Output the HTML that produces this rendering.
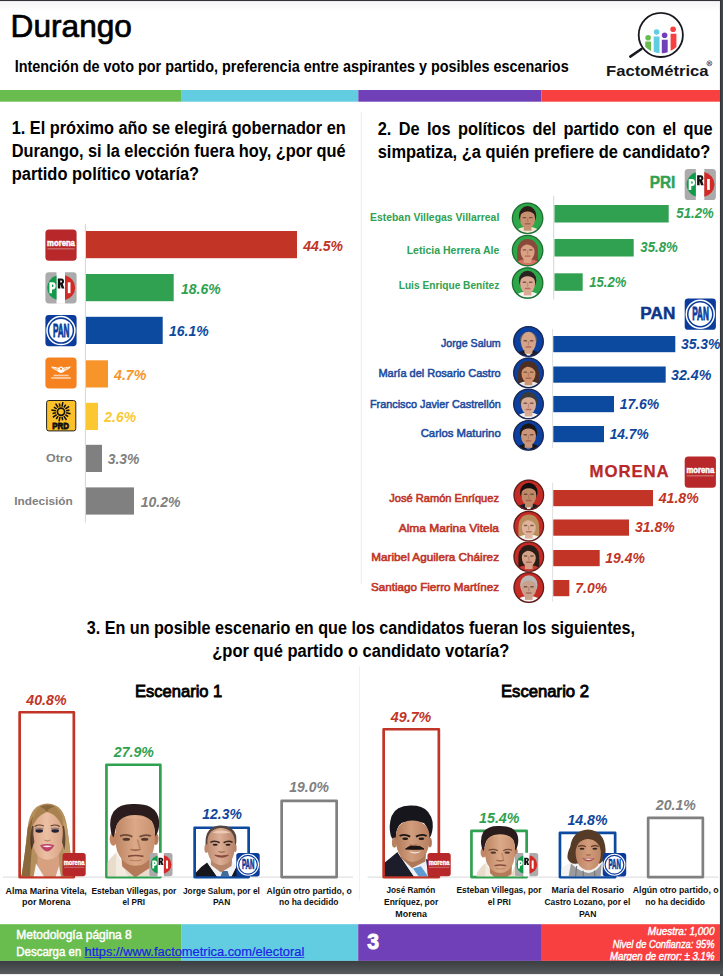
<!DOCTYPE html>
<html lang="es"><head><meta charset="utf-8"><title>Durango - FactoMétrica</title>
<style>html,body{margin:0;padding:0;background:#fff;}body{width:723px;height:976px;overflow:hidden;font-family:"Liberation Sans",sans-serif;}svg{display:block;font-family:"Liberation Sans",sans-serif;}text{white-space:pre;}</style>
</head><body>
<svg width="723" height="976" viewBox="0 0 723 976">
<defs><linearGradient id="gb" x1="0" y1="0" x2="0" y2="1"><stop offset="0" stop-color="#3b3e41"/><stop offset="1" stop-color="#585b5e"/></linearGradient><linearGradient id="gr" x1="0" y1="0" x2="1" y2="0"><stop offset="0" stop-color="#6b6e70"/><stop offset="0.2" stop-color="#33363a"/><stop offset="1" stop-color="#4b4e51"/></linearGradient><linearGradient id="gt" x1="0" y1="0" x2="0" y2="1"><stop offset="0" stop-color="#f5f5f5"/><stop offset="1" stop-color="#ffffff"/></linearGradient><filter id="ab" x="-10%" y="-10%" width="120%" height="120%"><feGaussianBlur stdDeviation="0.5"/></filter></defs>
<rect x="0.0" y="0.0" width="723.0" height="976.0" fill="#fff"/>
<text x="10.6" y="37.3" font-size="31.6" font-weight="normal" fill="#000" stroke="#000" stroke-width="0.7" textLength="121.3" lengthAdjust="spacingAndGlyphs">Durango</text>
<text x="14.7" y="72.3" font-size="15.6" font-weight="bold" fill="#000" textLength="554.0" lengthAdjust="spacingAndGlyphs">Intención de voto por partido, preferencia entre aspirantes y posibles escenarios</text>
<rect x="0.0" y="90.0" width="181.7" height="11.7" fill="#69bd4f"/>
<rect x="181.7" y="90.0" width="176.6" height="11.7" fill="#62cce0"/>
<rect x="358.3" y="90.0" width="183.0" height="11.7" fill="#7040b8"/>
<rect x="541.3" y="90.0" width="179.0" height="11.7" fill="#f94040"/>
<g>
<path d="M641.4 49.0 L630.3 56.6" stroke="#16181d" stroke-width="2.5" stroke-linecap="round"/>
<circle cx="660.8" cy="34.9" r="22.1" fill="#fff" stroke="#16181d" stroke-width="1.8"/>
<circle cx="648.1" cy="37.8" r="2.8" fill="#69bd4f"/><path d="M645.2 41.6 h5.8 v9.3 q-3.2 -1.5 -5.8 -4.2 Z" fill="#69bd4f"/>
<circle cx="656.6" cy="32.0" r="2.8" fill="#62cce0"/><path d="M653.7 36.6 h5.8 v16.6 q-3.0 -0.3 -5.8 -1.4 Z" fill="#62cce0"/>
<circle cx="664.6" cy="35.2" r="2.8" fill="#7040b8"/><path d="M661.8 39.8 h5.9 v12.4 q-2.9 0.9 -5.9 1.0 Z" fill="#7040b8"/>
<circle cx="673.1" cy="29.3" r="2.8" fill="#f94040"/><path d="M670.6 33.8 h5.8 v13.2 q-2.6 2.6 -5.8 3.8 Z" fill="#f94040"/>
<text x="606.0" y="76.2" font-size="15.4" font-weight="bold" fill="#14161c" textLength="102.5" lengthAdjust="spacingAndGlyphs">FactoMétrica</text>
<circle cx="709.4" cy="63.3" r="2.5" fill="none" stroke="#222" stroke-width="0.6"/>
<text x="708.1" y="64.8" font-size="3.9" font-weight="bold" fill="#222">R</text>
</g>
<rect x="360.8" y="112.0" width="0.9" height="472.0" fill="#e9e9e9"/>
<rect x="359.2" y="666.0" width="0.9" height="234.5" fill="#eeeeee"/>
<text x="11.7" y="134.4" font-size="17.5" font-weight="bold" fill="#000" textLength="334.0" lengthAdjust="spacingAndGlyphs">1. El próximo año se elegirá gobernador en</text>
<text x="11.7" y="157.4" font-size="17.5" font-weight="bold" fill="#000" textLength="334.0" lengthAdjust="spacingAndGlyphs">Durango, si la elección fuera hoy, ¿por qué</text>
<text x="11.7" y="180.3" font-size="17.5" font-weight="bold" fill="#000" textLength="187.5" lengthAdjust="spacingAndGlyphs">partido político votaría?</text>
<rect x="84.9" y="224.0" width="0.9" height="298.5" fill="#d0d0d0"/>
<rect x="86.0" y="231.0" width="211.0" height="27.2" fill="#c13426"/>
<text x="303.3" y="250.6" font-size="14.8" font-weight="bold" font-style="italic" fill="#c13426" textLength="39.8" lengthAdjust="spacingAndGlyphs">44.5%</text>
<rect x="86.0" y="274.0" width="87.7" height="27.2" fill="#30a150"/>
<text x="181.0" y="293.6" font-size="14.8" font-weight="bold" font-style="italic" fill="#30a150" textLength="39.6" lengthAdjust="spacingAndGlyphs">18.6%</text>
<rect x="86.0" y="316.8" width="76.7" height="27.2" fill="#0c4aa0"/>
<text x="169.0" y="336.4" font-size="14.8" font-weight="bold" font-style="italic" fill="#0c4aa0" textLength="39.7" lengthAdjust="spacingAndGlyphs">16.1%</text>
<rect x="86.0" y="360.3" width="22.0" height="27.2" fill="#f8952a"/>
<text x="114.0" y="379.9" font-size="14.8" font-weight="bold" font-style="italic" fill="#f8952a" textLength="32.4" lengthAdjust="spacingAndGlyphs">4.7%</text>
<rect x="86.0" y="402.8" width="12.0" height="27.2" fill="#fcc832"/>
<text x="104.3" y="422.4" font-size="14.8" font-weight="bold" font-style="italic" fill="#fcc832" textLength="31.8" lengthAdjust="spacingAndGlyphs">2.6%</text>
<rect x="86.0" y="444.8" width="16.0" height="27.2" fill="#808080"/>
<text x="107.7" y="464.4" font-size="14.8" font-weight="bold" font-style="italic" fill="#808080" textLength="31.8" lengthAdjust="spacingAndGlyphs">3.3%</text>
<rect x="86.0" y="487.4" width="48.0" height="27.2" fill="#808080"/>
<text x="140.7" y="507.0" font-size="14.8" font-weight="bold" font-style="italic" fill="#808080" textLength="39.7" lengthAdjust="spacingAndGlyphs">10.2%</text>
<g transform="translate(45.4,229.6) scale(1.000)">
<rect x="0" y="0" width="31.2" height="31.2" rx="3.6" fill="#b8282a"/>
<text x="1.7" y="16.3" font-size="9.0" font-weight="bold" fill="#fff" stroke="#fff" stroke-width="0.5" textLength="27.8" lengthAdjust="spacingAndGlyphs">morena</text>
<rect x="2.0" y="18.6" width="27.2" height="1.2" fill="#e3aaa6" opacity="0.6"/>
</g>
<g transform="translate(45.4,272.2) scale(1.000)">
<rect x="0" y="0" width="31.2" height="31.2" rx="3.4" fill="#ababab"/>
<rect x="11.1" y="-0.3" width="8.5" height="31.8" fill="#fff"/>
<path d="M11.1 3.35 A13.5 12.8 0 0 0 11.1 27.65 Z" fill="#109a49"/>
<path d="M19.6 3.1 A13.5 12.8 0 0 1 19.6 27.9 Z" fill="#d22a26"/>
<path fill-rule="evenodd" d="M4 10 H7.4 A2.9 3.6 0 0 1 7.4 17.2 H6.6 V21 H4 Z M6.6 12.3 V14.9 H7.1 A1.0 1.3 0 0 0 7.1 12.3 Z" fill="#fff"/>
<path fill-rule="evenodd" d="M12.4 6.3 H16.2 A2.7 2.9 0 0 1 17.4 11.7 L19.0 16.25 H16.3 L15.0 12.3 H14.9 V16.25 H12.4 Z M14.9 8.4 V10.3 H15.7 A0.9 0.95 0 0 0 15.7 8.4 Z" fill="#111"/>
<rect x="22.4" y="10.1" width="2.7" height="10.9" fill="#fff"/>
</g>
<g transform="translate(45.4,315.0) scale(1.000)">
<rect x="0" y="0" width="31.2" height="31.2" rx="3.4" fill="#0b3c9b"/>
<circle cx="15.55" cy="15.6" r="14.0" fill="none" stroke="#fff" stroke-width="1.5"/>
<circle cx="15.55" cy="15.6" r="11.7" fill="#fff"/>
<text x="7.5" y="21.8" font-size="18.4" font-weight="bold" fill="#0b3c9b" stroke="#0b3c9b" stroke-width="0.95" textLength="16.6" lengthAdjust="spacingAndGlyphs">PAN</text>
</g>
<g transform="translate(45.4,357.4) scale(1.000)">
<rect x="0" y="0" width="31.2" height="31.2" rx="3.8" fill="#f6821f"/>
<path d="M5.4 9.0 Q10.5 9.2 13.4 10.4 L15.6 8.8 L17.8 10.4 Q20.7 9.2 25.8 9.0 Q23.4 12.2 19.8 13.4 Q17.8 15.2 15.6 15.5 Q13.4 15.2 11.4 13.4 Q7.8 12.2 5.4 9.0 Z" fill="#fff"/>
<path d="M8.2 10.3 L12.2 12.6 M10.6 10.2 L13.4 12.2 M23.0 10.3 L19.0 12.6 M20.6 10.2 L17.8 12.2" stroke="#f6821f" stroke-width="0.55" fill="none"/>
<circle cx="15.6" cy="11.4" r="1.1" fill="#f6821f"/>
<rect x="8.0" y="17.3" width="15.2" height="1.5" fill="#fff" opacity="0.6"/>
<rect x="5.8" y="19.8" width="19.6" height="1.6" fill="#fff" opacity="0.65"/>
</g>
<g transform="translate(45.4,400.0) scale(1.000)">
<rect x="1.2" y="0.5" width="29.2" height="30.4" rx="2.2" fill="#fbc02a" stroke="#222" stroke-width="1"/>
<path d="M20.70 12.81L25.21 13.71M19.92 14.69L22.75 16.58M18.49 16.12L21.04 19.95M16.61 16.90L17.28 20.23M14.59 16.90L13.69 21.41M12.71 16.12L10.82 18.95M11.28 14.69L7.45 17.24M10.50 12.81L7.17 13.48M10.50 10.79L5.99 9.89M11.28 8.91L8.45 7.02M12.71 7.48L10.16 3.65M14.59 6.70L13.92 3.37M16.61 6.70L17.51 2.19M18.49 7.48L20.38 4.65M19.92 8.91L23.75 6.36M20.70 10.79L24.03 10.12" stroke="#111" stroke-width="1.55" fill="none"/>
<circle cx="15.6" cy="11.8" r="3.6" fill="#fbc02a" stroke="#111" stroke-width="1.7"/>
<text x="6.9" y="28.9" font-size="9.6" font-weight="bold" fill="#111" stroke="#111" stroke-width="0.9" textLength="16.6" lengthAdjust="spacingAndGlyphs">PRD</text>
</g>
<text x="46.0" y="462.4" font-size="11.6" font-weight="bold" fill="#808080" textLength="26.3" lengthAdjust="spacingAndGlyphs">Otro</text>
<text x="14.3" y="505.0" font-size="11.6" font-weight="bold" fill="#808080" textLength="58.4" lengthAdjust="spacingAndGlyphs">Indecisión</text>
<text x="377.7" y="134.6" font-size="17.5" font-weight="bold" fill="#000" textLength="335.0" lengthAdjust="spacingAndGlyphs" word-spacing="3">2. De los políticos del partido con el que</text>
<text x="377.7" y="157.5" font-size="17.5" font-weight="bold" fill="#000" textLength="332.6" lengthAdjust="spacingAndGlyphs">simpatiza, ¿a quién prefiere de candidato?</text>
<text x="649.7" y="187.8" font-size="16.8" font-weight="bold" fill="#30a150" stroke="#30a150" stroke-width="0.45" textLength="25.6" lengthAdjust="spacingAndGlyphs">PRI</text>
<g transform="translate(684.7,168.9) scale(1.000)">
<rect x="0" y="0" width="31.2" height="31.2" rx="3.4" fill="#ababab"/>
<rect x="11.1" y="-0.3" width="8.5" height="31.8" fill="#fff"/>
<path d="M11.1 3.35 A13.5 12.8 0 0 0 11.1 27.65 Z" fill="#109a49"/>
<path d="M19.6 3.1 A13.5 12.8 0 0 1 19.6 27.9 Z" fill="#d22a26"/>
<path fill-rule="evenodd" d="M4 10 H7.4 A2.9 3.6 0 0 1 7.4 17.2 H6.6 V21 H4 Z M6.6 12.3 V14.9 H7.1 A1.0 1.3 0 0 0 7.1 12.3 Z" fill="#fff"/>
<path fill-rule="evenodd" d="M12.4 6.3 H16.2 A2.7 2.9 0 0 1 17.4 11.7 L19.0 16.25 H16.3 L15.0 12.3 H14.9 V16.25 H12.4 Z M14.9 8.4 V10.3 H15.7 A0.9 0.95 0 0 0 15.7 8.4 Z" fill="#111"/>
<rect x="22.4" y="10.1" width="2.7" height="10.9" fill="#fff"/>
</g>
<rect x="553.3" y="196.0" width="0.9" height="103.5" fill="#d0d0d0"/>
<text x="370.0" y="221.0" font-size="11.7" font-weight="bold" fill="#30a150" textLength="129.3" lengthAdjust="spacingAndGlyphs">Esteban Villegas Villarreal</text>
<rect x="554.5" y="205.0" width="114.2" height="17.5" fill="#30a150"/>
<text x="676.3" y="218.3" font-size="14.2" font-weight="bold" font-style="italic" fill="#30a150" textLength="37.4" lengthAdjust="spacingAndGlyphs">51.2%</text>
<text x="406.7" y="254.3" font-size="11.7" font-weight="bold" fill="#30a150" textLength="92.6" lengthAdjust="spacingAndGlyphs">Leticia Herrera Ale</text>
<rect x="554.5" y="239.0" width="79.2" height="17.5" fill="#30a150"/>
<text x="640.3" y="252.3" font-size="14.2" font-weight="bold" font-style="italic" fill="#30a150" textLength="37.4" lengthAdjust="spacingAndGlyphs">35.8%</text>
<text x="398.7" y="288.8" font-size="11.7" font-weight="bold" fill="#30a150" textLength="100.6" lengthAdjust="spacingAndGlyphs">Luis Enrique Benítez</text>
<rect x="554.5" y="273.3" width="28.2" height="17.5" fill="#30a150"/>
<text x="589.3" y="286.6" font-size="14.2" font-weight="bold" font-style="italic" fill="#30a150" textLength="37.0" lengthAdjust="spacingAndGlyphs">15.2%</text>
<g><circle cx="527.6" cy="218.3" r="16.1" fill="#d9ddd9"/>
<circle cx="527.6" cy="218.3" r="15.4" fill="#2ea64a"/>
<clipPath id="c527_218"><circle cx="527.6" cy="218.3" r="14.7"/></clipPath>
<g clip-path="url(#c527_218)"><g filter="url(#ab)">
<ellipse cx="527.6" cy="236.9" rx="15.5" ry="10.2" fill="#efe6d4"/>
<rect x="523.8" y="223.3" width="7.6" height="7.4" fill="#c7906f"/>
<ellipse cx="527.6" cy="215.7" rx="8.7" ry="9.6" fill="#2a1d17"/>
<ellipse cx="527.6" cy="218.9" rx="7.5" ry="9.6" fill="#c7906f"/>
<path d="M520.0 215.1 Q521.6 208.8 527.6 208.7 Q533.6 208.8 535.2 215.1 Q531.6 211.1 527.6 211.5 Q523.6 211.1 520.0 215.1Z" fill="#2a1d17"/>
<rect x="522.6" y="216.9" width="3.6" height="1.4" rx=".6" fill="#3a251d" opacity="0.6"/>
<rect x="529.0" y="216.9" width="3.6" height="1.4" rx=".6" fill="#3a251d" opacity="0.6"/>
<rect x="526.9" y="217.9" width="1.4" height="4.2" fill="#8a5a45" opacity="0.35"/>
<rect x="524.6" y="223.1" width="6" height="1.4" rx="0.7" fill="#8a3d35" opacity="0.55"/>
</g></g>
<circle cx="527.6" cy="218.3" r="15.2" fill="none" stroke="#1d6e33" stroke-width="1.2"/></g>
<g><circle cx="527.6" cy="250.6" r="16.1" fill="#d9ddd9"/>
<circle cx="527.6" cy="250.6" r="15.4" fill="#2ea64a"/>
<clipPath id="c527_250"><circle cx="527.6" cy="250.6" r="14.7"/></clipPath>
<g clip-path="url(#c527_250)"><g filter="url(#ab)">
<ellipse cx="527.6" cy="250.1" rx="10.4" ry="11.2" fill="#8a4a3a"/>
<rect x="517.2" y="250.1" width="20.8" height="13.5" rx="3" fill="#8a4a3a"/>
<ellipse cx="527.6" cy="269.2" rx="15.5" ry="10.2" fill="#d9705f"/>
<rect x="523.8" y="255.6" width="7.6" height="7.4" fill="#dba184"/>
<ellipse cx="527.6" cy="251.4" rx="7.0" ry="9.2" fill="#dba184"/>
<path d="M519.8 250.6 Q521.1 240.6 528.1 241.0 Q534.6 241.0 535.4 250.6 Q531.6 244.0 526.1 244.6 Q521.6 246.0 519.8 250.6Z" fill="#8a4a3a"/>
<rect x="522.6" y="249.2" width="3.6" height="1.4" rx=".6" fill="#3a251d" opacity="0.6"/>
<rect x="529.0" y="249.2" width="3.6" height="1.4" rx=".6" fill="#3a251d" opacity="0.6"/>
<rect x="526.9" y="250.2" width="1.4" height="4.2" fill="#8a5a45" opacity="0.35"/>
<rect x="524.6" y="255.4" width="6" height="1.4" rx="0.7" fill="#8a3d35" opacity="0.55"/>
</g></g>
<circle cx="527.6" cy="250.6" r="15.2" fill="none" stroke="#1d6e33" stroke-width="1.2"/></g>
<g><circle cx="527.6" cy="283.0" r="16.1" fill="#d9ddd9"/>
<circle cx="527.6" cy="283.0" r="15.4" fill="#2ea64a"/>
<clipPath id="c527_283"><circle cx="527.6" cy="283.0" r="14.7"/></clipPath>
<g clip-path="url(#c527_283)"><g filter="url(#ab)">
<ellipse cx="527.6" cy="301.6" rx="15.5" ry="10.2" fill="#f4f4f2"/>
<rect x="523.8" y="288.0" width="7.6" height="7.4" fill="#dcaa94"/>
<ellipse cx="527.6" cy="280.4" rx="8.7" ry="9.6" fill="#2b2320"/>
<ellipse cx="527.6" cy="283.6" rx="7.5" ry="9.6" fill="#dcaa94"/>
<path d="M520.0 279.8 Q521.6 273.5 527.6 273.4 Q533.6 273.5 535.2 279.8 Q531.6 275.8 527.6 276.2 Q523.6 275.8 520.0 279.8Z" fill="#2b2320"/>
<rect x="522.6" y="281.6" width="3.6" height="1.4" rx=".6" fill="#3a251d" opacity="0.6"/>
<rect x="529.0" y="281.6" width="3.6" height="1.4" rx=".6" fill="#3a251d" opacity="0.6"/>
<rect x="526.9" y="282.6" width="1.4" height="4.2" fill="#8a5a45" opacity="0.35"/>
<rect x="524.6" y="287.8" width="6" height="1.4" rx="0.7" fill="#8a3d35" opacity="0.55"/>
</g></g>
<circle cx="527.6" cy="283.0" r="15.2" fill="none" stroke="#1d6e33" stroke-width="1.2"/></g>
<text x="640.3" y="318.8" font-size="16.8" font-weight="bold" fill="#0d3588" stroke="#0d3588" stroke-width="0.45" textLength="35.0" lengthAdjust="spacingAndGlyphs">PAN</text>
<g transform="translate(684.7,298.6) scale(1.000)">
<rect x="0" y="0" width="31.2" height="31.2" rx="3.4" fill="#0b3c9b"/>
<circle cx="15.55" cy="15.6" r="14.0" fill="none" stroke="#fff" stroke-width="1.5"/>
<circle cx="15.55" cy="15.6" r="11.7" fill="#fff"/>
<text x="7.5" y="21.8" font-size="18.4" font-weight="bold" fill="#0b3c9b" stroke="#0b3c9b" stroke-width="0.95" textLength="16.6" lengthAdjust="spacingAndGlyphs">PAN</text>
</g>
<rect x="552.2" y="329.0" width="0.9" height="119.0" fill="#dcdcdc"/>
<text x="441.0" y="347.3" font-size="11.7" font-weight="normal" fill="#1c4c9f" stroke="#1c4c9f" stroke-width="0.55" textLength="59.7" lengthAdjust="spacingAndGlyphs">Jorge Salum</text>
<rect x="553.3" y="336.0" width="122.0" height="16.2" fill="#0c4aa0"/>
<text x="681.0" y="349.1" font-size="14.6" font-weight="bold" font-style="italic" fill="#0e469c" textLength="39.5" lengthAdjust="spacingAndGlyphs">35.3%</text>
<text x="378.4" y="377.0" font-size="11.7" font-weight="normal" fill="#1c4c9f" stroke="#1c4c9f" stroke-width="0.55" textLength="122.3" lengthAdjust="spacingAndGlyphs">María del Rosario Castro</text>
<rect x="553.3" y="366.5" width="112.4" height="16.2" fill="#0c4aa0"/>
<text x="671.0" y="379.6" font-size="14.6" font-weight="bold" font-style="italic" fill="#0e469c" textLength="40.3" lengthAdjust="spacingAndGlyphs">32.4%</text>
<text x="370.0" y="407.7" font-size="11.7" font-weight="normal" fill="#1c4c9f" stroke="#1c4c9f" stroke-width="0.55" textLength="130.7" lengthAdjust="spacingAndGlyphs">Francisco Javier Castrellón</text>
<rect x="553.3" y="396.0" width="60.7" height="16.2" fill="#0c4aa0"/>
<text x="619.7" y="409.1" font-size="14.6" font-weight="bold" font-style="italic" fill="#0e469c" textLength="39.6" lengthAdjust="spacingAndGlyphs">17.6%</text>
<text x="420.7" y="437.3" font-size="11.7" font-weight="normal" fill="#1c4c9f" stroke="#1c4c9f" stroke-width="0.55" textLength="80.0" lengthAdjust="spacingAndGlyphs">Carlos Maturino</text>
<rect x="553.3" y="426.0" width="50.7" height="16.2" fill="#0c4aa0"/>
<text x="609.7" y="439.1" font-size="14.6" font-weight="bold" font-style="italic" fill="#0e469c" textLength="39.0" lengthAdjust="spacingAndGlyphs">14.7%</text>
<g><circle cx="528.5" cy="341.5" r="15.7" fill="#d9ddd9"/>
<circle cx="528.5" cy="341.5" r="15.0" fill="#0b3fa0"/>
<clipPath id="c528_341"><circle cx="528.5" cy="341.5" r="14.3"/></clipPath>
<g clip-path="url(#c528_341)"><g filter="url(#ab)">
<ellipse cx="528.5" cy="360.1" rx="15.5" ry="10.2" fill="#1a1f2c"/>
<path d="M524.5 351.1 L528.5 358.5 L532.5 351.1 Z" fill="#f3f3f3"/>
<rect x="524.7" y="346.5" width="7.6" height="7.4" fill="#d5a488"/>
<ellipse cx="528.5" cy="339.9" rx="8.4" ry="8.2" fill="#6b5f5a"/>
<ellipse cx="528.5" cy="342.1" rx="7.5" ry="10.4" fill="#d5a488"/>
<rect x="523.5" y="340.1" width="3.6" height="1.4" rx=".6" fill="#3a251d" opacity="0.6"/>
<rect x="529.9" y="340.1" width="3.6" height="1.4" rx=".6" fill="#3a251d" opacity="0.6"/>
<rect x="527.8" y="341.1" width="1.4" height="4.2" fill="#8a5a45" opacity="0.35"/>
<rect x="525.5" y="346.3" width="6" height="1.4" rx="0.7" fill="#8a3d35" opacity="0.55"/>
</g></g>
<circle cx="528.5" cy="341.5" r="14.8" fill="none" stroke="#1a2550" stroke-width="1.2"/></g>
<g><circle cx="528.5" cy="372.8" r="15.7" fill="#d9ddd9"/>
<circle cx="528.5" cy="372.8" r="15.0" fill="#0b3fa0"/>
<clipPath id="c528_372"><circle cx="528.5" cy="372.8" r="14.3"/></clipPath>
<g clip-path="url(#c528_372)"><g filter="url(#ab)">
<ellipse cx="528.5" cy="372.3" rx="10.4" ry="11.2" fill="#4e2f22"/>
<rect x="518.1" y="372.3" width="20.8" height="13.5" rx="3" fill="#4e2f22"/>
<ellipse cx="528.5" cy="391.4" rx="15.5" ry="10.2" fill="#e7e7e7"/>
<rect x="524.7" y="377.8" width="7.6" height="7.4" fill="#cf946f"/>
<ellipse cx="528.5" cy="373.6" rx="7.0" ry="9.2" fill="#cf946f"/>
<path d="M520.7 372.8 Q522.0 362.8 529.0 363.2 Q535.5 363.2 536.3 372.8 Q532.5 366.2 527.0 366.8 Q522.5 368.2 520.7 372.8Z" fill="#4e2f22"/>
<rect x="523.5" y="371.4" width="3.6" height="1.4" rx=".6" fill="#3a251d" opacity="0.6"/>
<rect x="529.9" y="371.4" width="3.6" height="1.4" rx=".6" fill="#3a251d" opacity="0.6"/>
<rect x="527.8" y="372.4" width="1.4" height="4.2" fill="#8a5a45" opacity="0.35"/>
<rect x="525.5" y="377.6" width="6" height="1.4" rx="0.7" fill="#8a3d35" opacity="0.55"/>
</g></g>
<circle cx="528.5" cy="372.8" r="14.8" fill="none" stroke="#1a2550" stroke-width="1.2"/></g>
<g><circle cx="528.5" cy="404.0" r="15.7" fill="#d9ddd9"/>
<circle cx="528.5" cy="404.0" r="15.0" fill="#0b3fa0"/>
<clipPath id="c528_404"><circle cx="528.5" cy="404.0" r="14.3"/></clipPath>
<g clip-path="url(#c528_404)"><g filter="url(#ab)">
<ellipse cx="528.5" cy="422.6" rx="15.5" ry="10.2" fill="#f1f1f1"/>
<rect x="524.7" y="409.0" width="7.6" height="7.4" fill="#d8ab97"/>
<ellipse cx="528.5" cy="401.4" rx="8.7" ry="9.6" fill="#3a3a3c"/>
<ellipse cx="528.5" cy="404.6" rx="7.5" ry="9.6" fill="#d8ab97"/>
<path d="M520.9 400.8 Q522.5 394.5 528.5 394.4 Q534.5 394.5 536.1 400.8 Q532.5 396.8 528.5 397.2 Q524.5 396.8 520.9 400.8Z" fill="#3a3a3c"/>
<rect x="523.5" y="402.6" width="3.6" height="1.4" rx=".6" fill="#3a251d" opacity="0.6"/>
<rect x="529.9" y="402.6" width="3.6" height="1.4" rx=".6" fill="#3a251d" opacity="0.6"/>
<rect x="527.8" y="403.6" width="1.4" height="4.2" fill="#8a5a45" opacity="0.35"/>
<rect x="525.5" y="408.8" width="6" height="1.4" rx="0.7" fill="#8a3d35" opacity="0.55"/>
</g></g>
<circle cx="528.5" cy="404.0" r="14.8" fill="none" stroke="#1a2550" stroke-width="1.2"/></g>
<g><circle cx="528.5" cy="435.4" r="15.7" fill="#d9ddd9"/>
<circle cx="528.5" cy="435.4" r="15.0" fill="#0b3fa0"/>
<clipPath id="c528_435"><circle cx="528.5" cy="435.4" r="14.3"/></clipPath>
<g clip-path="url(#c528_435)"><g filter="url(#ab)">
<ellipse cx="528.5" cy="454.0" rx="15.5" ry="10.2" fill="#15161c"/>
<path d="M524.5 445.0 L528.5 452.4 L532.5 445.0 Z" fill="#4a67a8"/>
<rect x="524.7" y="440.4" width="7.6" height="7.4" fill="#c9967a"/>
<ellipse cx="528.5" cy="432.8" rx="8.7" ry="9.6" fill="#1c1614"/>
<ellipse cx="528.5" cy="436.0" rx="7.5" ry="9.6" fill="#c9967a"/>
<path d="M520.9 432.2 Q522.5 425.9 528.5 425.8 Q534.5 425.9 536.1 432.2 Q532.5 428.2 528.5 428.6 Q524.5 428.2 520.9 432.2Z" fill="#1c1614"/>
<rect x="523.5" y="434.0" width="3.6" height="1.4" rx=".6" fill="#3a251d" opacity="0.6"/>
<rect x="529.9" y="434.0" width="3.6" height="1.4" rx=".6" fill="#3a251d" opacity="0.6"/>
<rect x="527.8" y="435.0" width="1.4" height="4.2" fill="#8a5a45" opacity="0.35"/>
<rect x="525.5" y="440.2" width="6" height="1.4" rx="0.7" fill="#8a3d35" opacity="0.55"/>
</g></g>
<circle cx="528.5" cy="435.4" r="14.8" fill="none" stroke="#1a2550" stroke-width="1.2"/></g>
<text x="589.6" y="476.8" font-size="16.4" font-weight="bold" fill="#b8282a" stroke="#b8282a" stroke-width="0.25" textLength="80.0" lengthAdjust="spacingAndGlyphs" letter-spacing="0.9">MORENA</text>
<g transform="translate(684.7,456.6) scale(1.000)">
<rect x="0" y="0" width="31.2" height="31.2" rx="3.6" fill="#b8282a"/>
<text x="1.7" y="16.3" font-size="9.0" font-weight="bold" fill="#fff" stroke="#fff" stroke-width="0.5" textLength="27.8" lengthAdjust="spacingAndGlyphs">morena</text>
<rect x="2.0" y="18.6" width="27.2" height="1.2" fill="#e3aaa6" opacity="0.6"/>
</g>
<rect x="552.2" y="482.7" width="0.9" height="119.0" fill="#dcdcdc"/>
<text x="389.3" y="501.7" font-size="11.7" font-weight="normal" fill="#c13426" stroke="#c13426" stroke-width="0.6" textLength="109.7" lengthAdjust="spacingAndGlyphs">José Ramón Enríquez</text>
<rect x="553.3" y="490.0" width="99.7" height="16.2" fill="#c13426"/>
<text x="658.7" y="502.8" font-size="14.6" font-weight="bold" font-style="italic" fill="#c13426" textLength="40.0" lengthAdjust="spacingAndGlyphs">41.8%</text>
<text x="398.7" y="531.7" font-size="11.7" font-weight="normal" fill="#c13426" stroke="#c13426" stroke-width="0.6" textLength="100.3" lengthAdjust="spacingAndGlyphs">Alma Marina Vitela</text>
<rect x="553.3" y="519.5" width="75.7" height="16.2" fill="#c13426"/>
<text x="635.0" y="532.3" font-size="14.6" font-weight="bold" font-style="italic" fill="#c13426" textLength="39.7" lengthAdjust="spacingAndGlyphs">31.8%</text>
<text x="371.3" y="561.0" font-size="11.7" font-weight="normal" fill="#c13426" stroke="#c13426" stroke-width="0.6" textLength="127.7" lengthAdjust="spacingAndGlyphs">Maribel Aguilera Cháirez</text>
<rect x="553.3" y="550.0" width="46.4" height="16.2" fill="#c13426"/>
<text x="605.3" y="562.8" font-size="14.6" font-weight="bold" font-style="italic" fill="#c13426" textLength="39.7" lengthAdjust="spacingAndGlyphs">19.4%</text>
<text x="371.0" y="590.7" font-size="11.7" font-weight="normal" fill="#c13426" stroke="#c13426" stroke-width="0.6" textLength="128.0" lengthAdjust="spacingAndGlyphs">Santiago Fierro Martínez</text>
<rect x="553.3" y="580.0" width="16.0" height="16.2" fill="#c13426"/>
<text x="575.3" y="592.8" font-size="14.6" font-weight="bold" font-style="italic" fill="#c13426" textLength="31.7" lengthAdjust="spacingAndGlyphs">7.0%</text>
<g><circle cx="528.8" cy="495.0" r="15.7" fill="#d9ddd9"/>
<circle cx="528.8" cy="495.0" r="15.0" fill="#c52b25"/>
<clipPath id="c528_495"><circle cx="528.8" cy="495.0" r="14.3"/></clipPath>
<g clip-path="url(#c528_495)"><g filter="url(#ab)">
<ellipse cx="528.8" cy="513.6" rx="15.5" ry="10.2" fill="#1b1d27"/>
<path d="M524.8 504.6 L528.8 512.0 L532.8 504.6 Z" fill="#e9edf3"/>
<rect x="525.0" y="500.0" width="7.6" height="7.4" fill="#c08a68"/>
<ellipse cx="528.8" cy="492.4" rx="8.7" ry="9.6" fill="#15110f"/>
<ellipse cx="528.8" cy="495.6" rx="7.5" ry="9.6" fill="#c08a68"/>
<path d="M521.2 491.8 Q522.8 485.5 528.8 485.4 Q534.8 485.5 536.4 491.8 Q532.8 487.8 528.8 488.2 Q524.8 487.8 521.2 491.8Z" fill="#15110f"/>
<rect x="523.8" y="493.6" width="3.6" height="1.4" rx=".6" fill="#3a251d" opacity="0.6"/>
<rect x="530.2" y="493.6" width="3.6" height="1.4" rx=".6" fill="#3a251d" opacity="0.6"/>
<rect x="528.1" y="494.6" width="1.4" height="4.2" fill="#8a5a45" opacity="0.35"/>
<rect x="525.8" y="499.8" width="6" height="1.4" rx="0.7" fill="#8a3d35" opacity="0.55"/>
</g></g>
<circle cx="528.8" cy="495.0" r="14.8" fill="none" stroke="#5e1d1a" stroke-width="1.2"/></g>
<g><circle cx="528.8" cy="526.2" r="15.7" fill="#d9ddd9"/>
<circle cx="528.8" cy="526.2" r="15.0" fill="#c52b25"/>
<clipPath id="c528_526"><circle cx="528.8" cy="526.2" r="14.3"/></clipPath>
<g clip-path="url(#c528_526)"><g filter="url(#ab)">
<ellipse cx="528.8" cy="525.7" rx="10.4" ry="11.2" fill="#b98e5b"/>
<rect x="518.4" y="525.7" width="20.8" height="13.5" rx="3" fill="#b98e5b"/>
<ellipse cx="528.8" cy="544.8" rx="15.5" ry="10.2" fill="#f3f3f3"/>
<rect x="525.0" y="531.2" width="7.6" height="7.4" fill="#e0b49a"/>
<ellipse cx="528.8" cy="527.0" rx="7.0" ry="9.2" fill="#e0b49a"/>
<path d="M521.0 526.2 Q522.3 516.2 529.3 516.6 Q535.8 516.6 536.6 526.2 Q532.8 519.6 527.3 520.2 Q522.8 521.6 521.0 526.2Z" fill="#b98e5b"/>
<rect x="523.8" y="524.8" width="3.6" height="1.4" rx=".6" fill="#3a251d" opacity="0.6"/>
<rect x="530.2" y="524.8" width="3.6" height="1.4" rx=".6" fill="#3a251d" opacity="0.6"/>
<rect x="528.1" y="525.8" width="1.4" height="4.2" fill="#8a5a45" opacity="0.35"/>
<rect x="525.8" y="531.0" width="6" height="1.4" rx="0.7" fill="#8a3d35" opacity="0.55"/>
</g></g>
<circle cx="528.8" cy="526.2" r="14.8" fill="none" stroke="#5e1d1a" stroke-width="1.2"/></g>
<g><circle cx="528.8" cy="556.7" r="15.7" fill="#d9ddd9"/>
<circle cx="528.8" cy="556.7" r="15.0" fill="#c52b25"/>
<clipPath id="c528_556"><circle cx="528.8" cy="556.7" r="14.3"/></clipPath>
<g clip-path="url(#c528_556)"><g filter="url(#ab)">
<ellipse cx="528.8" cy="556.2" rx="10.4" ry="11.2" fill="#2a1c18"/>
<rect x="518.4" y="556.2" width="20.8" height="13.5" rx="3" fill="#2a1c18"/>
<ellipse cx="528.8" cy="575.3" rx="15.5" ry="10.2" fill="#c93a34"/>
<rect x="525.0" y="561.7" width="7.6" height="7.4" fill="#d3a288"/>
<ellipse cx="528.8" cy="557.5" rx="7.0" ry="9.2" fill="#d3a288"/>
<path d="M521.0 556.7 Q522.3 546.7 529.3 547.1 Q535.8 547.1 536.6 556.7 Q532.8 550.1 527.3 550.7 Q522.8 552.1 521.0 556.7Z" fill="#2a1c18"/>
<rect x="523.8" y="555.3" width="3.6" height="1.4" rx=".6" fill="#3a251d" opacity="0.6"/>
<rect x="530.2" y="555.3" width="3.6" height="1.4" rx=".6" fill="#3a251d" opacity="0.6"/>
<rect x="528.1" y="556.3" width="1.4" height="4.2" fill="#8a5a45" opacity="0.35"/>
<rect x="525.8" y="561.5" width="6" height="1.4" rx="0.7" fill="#8a3d35" opacity="0.55"/>
</g></g>
<circle cx="528.8" cy="556.7" r="14.8" fill="none" stroke="#5e1d1a" stroke-width="1.2"/></g>
<g><circle cx="528.8" cy="587.5" r="15.7" fill="#d9ddd9"/>
<circle cx="528.8" cy="587.5" r="15.0" fill="#c52b25"/>
<clipPath id="c528_587"><circle cx="528.8" cy="587.5" r="14.3"/></clipPath>
<g clip-path="url(#c528_587)"><g filter="url(#ab)">
<ellipse cx="528.8" cy="606.1" rx="15.5" ry="10.2" fill="#f4f4f4"/>
<rect x="525.0" y="592.5" width="7.6" height="7.4" fill="#c9a18c"/>
<ellipse cx="528.8" cy="584.9" rx="8.7" ry="9.6" fill="#b9b9b7"/>
<ellipse cx="528.8" cy="588.1" rx="7.5" ry="9.6" fill="#c9a18c"/>
<path d="M521.2 584.3 Q522.8 578.0 528.8 577.9 Q534.8 578.0 536.4 584.3 Q532.8 580.3 528.8 580.7 Q524.8 580.3 521.2 584.3Z" fill="#b9b9b7"/>
<rect x="523.8" y="586.1" width="3.6" height="1.4" rx=".6" fill="#3a251d" opacity="0.6"/>
<rect x="530.2" y="586.1" width="3.6" height="1.4" rx=".6" fill="#3a251d" opacity="0.6"/>
<rect x="528.1" y="587.1" width="1.4" height="4.2" fill="#8a5a45" opacity="0.35"/>
<rect x="525.8" y="592.3" width="6" height="1.4" rx="0.7" fill="#8a3d35" opacity="0.55"/>
</g></g>
<circle cx="528.8" cy="587.5" r="14.8" fill="none" stroke="#5e1d1a" stroke-width="1.2"/></g>
<text x="86.7" y="634.3" font-size="17.5" font-weight="bold" fill="#000" textLength="548.3" lengthAdjust="spacingAndGlyphs">3. En un posible escenario en que los candidatos fueran los siguientes,</text>
<text x="212.3" y="657.3" font-size="17.5" font-weight="bold" fill="#000" textLength="297.0" lengthAdjust="spacingAndGlyphs">¿por qué partido o candidato votaría?</text>
<text x="135.0" y="696.7" font-size="16.7" font-weight="normal" fill="#000" stroke="#000" stroke-width="0.85" textLength="87.3" lengthAdjust="spacingAndGlyphs">Escenario 1</text>
<text x="501.0" y="696.7" font-size="16.7" font-weight="normal" fill="#000" stroke="#000" stroke-width="0.85" textLength="88.0" lengthAdjust="spacingAndGlyphs">Escenario 2</text>
<rect x="3.0" y="876.6" width="350.0" height="1.0" fill="#d9d9d9"/>
<rect x="367.5" y="876.6" width="351.0" height="1.0" fill="#d9d9d9"/>
<rect x="19.65" y="712.25" width="54.20" height="164.80" fill="#fff" stroke="#c13426" stroke-width="2.7" stroke-linejoin="round"/>
<text x="26.3" y="704.6" font-size="14.8" font-weight="bold" font-style="italic" fill="#c13426" textLength="40.2" lengthAdjust="spacingAndGlyphs">40.8%</text>
<rect x="106.45" y="764.75" width="53.90" height="112.30" fill="#fff" stroke="#30a150" stroke-width="2.7" stroke-linejoin="round"/>
<text x="113.8" y="756.6" font-size="14.8" font-weight="bold" font-style="italic" fill="#30a150" textLength="40.0" lengthAdjust="spacingAndGlyphs">27.9%</text>
<rect x="194.65" y="827.75" width="54.00" height="49.30" fill="#fff" stroke="#0c4aa0" stroke-width="2.7" stroke-linejoin="round"/>
<text x="202.3" y="819.1" font-size="14.8" font-weight="bold" font-style="italic" fill="#0e469c" textLength="39.5" lengthAdjust="spacingAndGlyphs">12.3%</text>
<rect x="281.65" y="800.95" width="55.00" height="76.10" fill="#fff" stroke="#808080" stroke-width="2.7" stroke-linejoin="round"/>
<text x="289.3" y="792.3" font-size="14.8" font-weight="bold" font-style="italic" fill="#808080" textLength="39.7" lengthAdjust="spacingAndGlyphs">19.0%</text>
<rect x="383.65" y="729.25" width="55.20" height="147.80" fill="#fff" stroke="#c13426" stroke-width="2.7" stroke-linejoin="round"/>
<text x="390.8" y="721.6" font-size="14.8" font-weight="bold" font-style="italic" fill="#c13426" textLength="40.5" lengthAdjust="spacingAndGlyphs">49.7%</text>
<rect x="471.45" y="830.95" width="55.20" height="46.10" fill="#fff" stroke="#30a150" stroke-width="2.7" stroke-linejoin="round"/>
<text x="479.0" y="823.3" font-size="14.8" font-weight="bold" font-style="italic" fill="#30a150" textLength="40.5" lengthAdjust="spacingAndGlyphs">15.4%</text>
<rect x="559.95" y="832.95" width="55.20" height="44.10" fill="#fff" stroke="#0c4aa0" stroke-width="2.7" stroke-linejoin="round"/>
<text x="567.5" y="824.8" font-size="14.8" font-weight="bold" font-style="italic" fill="#0e469c" textLength="40.0" lengthAdjust="spacingAndGlyphs">14.8%</text>
<rect x="648.15" y="817.95" width="54.70" height="59.10" fill="#fff" stroke="#808080" stroke-width="2.7" stroke-linejoin="round"/>
<text x="655.8" y="809.8" font-size="14.8" font-weight="bold" font-style="italic" fill="#808080" textLength="40.0" lengthAdjust="spacingAndGlyphs">20.1%</text>
<defs><filter id="bl" x="-5%" y="-5%" width="110%" height="110%"><feGaussianBlur stdDeviation="0.6"/></filter><linearGradient id="sk1" x1="0" y1="0" x2="1" y2="0"><stop offset="0" stop-color="#d9a283"/><stop offset=".45" stop-color="#ecc0a4"/><stop offset="1" stop-color="#d6a081"/></linearGradient><linearGradient id="sk2" x1="0" y1="0" x2="1" y2="0"><stop offset="0" stop-color="#bd8563"/><stop offset=".5" stop-color="#dba988"/><stop offset="1" stop-color="#c8916f"/></linearGradient><linearGradient id="sk3" x1="0" y1="0" x2="1" y2="0"><stop offset="0" stop-color="#c08d72"/><stop offset=".45" stop-color="#dcae95"/><stop offset="1" stop-color="#b98468"/></linearGradient><linearGradient id="sk4" x1="0" y1="0" x2="1" y2="0"><stop offset="0" stop-color="#b27b5b"/><stop offset=".45" stop-color="#d19d7d"/><stop offset="1" stop-color="#b88060"/></linearGradient><linearGradient id="sk6" x1="0" y1="0" x2="1" y2="0"><stop offset="0" stop-color="#b98262"/><stop offset=".5" stop-color="#d39d7c"/><stop offset="1" stop-color="#bd8665"/></linearGradient></defs>
<clipPath id="p1"><rect x="20.8" y="800" width="52" height="76.4"/></clipPath>
<g clip-path="url(#p1)" filter="url(#bl)">
<path d="M47.5 803.6 Q30 804 27.6 828 Q25.6 850 21.4 876.6 L72.6 876.6 Q70.6 850 67.2 828 Q64.6 804 47.5 803.6Z" fill="#b58f5d"/>
<path d="M27.6 828 Q25.6 850 21.4 876.6 L30 876.6 Q31 852 33.6 836 Q31 826 33 816Z" fill="#8a673b"/>
<path d="M67.2 828 Q70.6 850 72.6 876.6 L63.4 876.6 Q64 852 62 836 Q65 826 63 816Z" fill="#bf9c68"/>
<path d="M37.6 850 L37.2 876.6 L60.4 876.6 L58.4 850Z" fill="#d6a081"/>
<path d="M36 863.6 L44 876.6 L33.6 876.6Z" fill="#f6f6f6"/>
<path d="M59 866 L55.6 876.6 L61 876.6Z" fill="#efefef"/>
<path d="M47.8 811 Q31.6 811.6 31 832 Q31.4 849 38.6 856.4 Q47.8 863 57 856.4 Q64.6 849 65 832 Q64.4 811.6 47.8 811Z" fill="url(#sk1)"/>
<path d="M47.5 804 Q33 805.6 30.6 832 Q34.6 816.6 46.6 812 Q58.4 813.6 64.6 833 Q63 805.6 47.5 804Z" fill="#a98250"/>
<path d="M40 806.6 Q47 803.6 55 806.6 Q48 808.4 46.8 812 Q44 808 40 806.6Z" fill="#7a5a33" opacity=".7"/>
<path d="M32 826 Q29 838 31.4 850 L34.4 842 Q32.6 834 33.6 826Z" fill="#3b2a1c" opacity=".8"/>
<path d="M64 826 Q66.6 838 64.4 850 L62 842 Q63.4 834 62.6 826Z" fill="#3b2a1c" opacity=".75"/>
<ellipse cx="39.2" cy="830.8" rx="3.8" ry="1.9" fill="#232030"/><ellipse cx="55.2" cy="830.8" rx="3.8" ry="1.9" fill="#232030"/>
<ellipse cx="39.2" cy="828.8" rx="4.4" ry="1.3" fill="#6a5a66" opacity=".6"/><ellipse cx="55" cy="828.8" rx="4.4" ry="1.3" fill="#6a5a66" opacity=".6"/>
<path d="M34.6 826.4 Q39 823.8 43.8 826" stroke="#5e3f2c" stroke-width="1.2" fill="none"/><path d="M50.6 826 Q55.4 823.8 59.8 826.4" stroke="#5e3f2c" stroke-width="1.2" fill="none"/>
<path d="M44.4 840.2 Q47.4 842.4 50.4 840.2 Q47.4 841.2 44.4 840.2Z" fill="#b67c60" stroke="#b67c60" stroke-width="1" opacity=".8"/>
<path d="M40 845.2 Q47.2 843 54.4 845.2 Q51 851.2 47.2 851.4 Q43.4 851 40 845.2Z" fill="#bd4268"/>
<path d="M42.2 846 Q47.2 845 52.2 846 Q47.2 848.6 42.2 846Z" fill="#f6ecee"/>
</g>
<clipPath id="p2"><rect x="107.6" y="800" width="51.70000000000002" height="76.39999999999998"/></clipPath>
<g clip-path="url(#p2)" filter="url(#bl)"><g transform="translate(135.2,840.5) scale(1.080,1.0)">
<path d="M-29 40 L-28 25 Q-23 17 -17.6 12 L-12 24 L0 36 L14 26 L19 15 Q25 19 27 27 L27 40Z" fill="#e9dccd"/>
<path d="M-17.6 12 L-12 24 L-5 40 L-18 40Z" fill="#f3ebe0"/>
<path d="M-13.6 10 L-12 26 L0 37 L14 27 L15 8Z" fill="#b57a59"/>
<ellipse cx="-20.2" cy="-1.6" rx="3.4" ry="6.8" fill="#c28665"/><ellipse cx="19" cy="-1.6" rx="2.6" ry="6.2" fill="#b67958"/>
<path d="M-1 -36.4 Q-14 -37 -20 -29 Q-24.6 -21 -22.6 -10 Q-22 -5 -20 -3 L-17.8 -13 Q-15.6 -22 -7 -23.6 Q7 -25.6 15 -19.6 Q17.8 -16 18.6 -4 Q22.6 -10 22.2 -19 Q21.6 -29 14 -33.6 Q8 -36.6 -1 -36.4Z" fill="#2a1d1b"/>
<path d="M-1 -25.6 Q-15.6 -25 -18 -12 Q-19 3 -16.6 11 Q-13 21 -5 24.6 Q0 26 6 24.6 Q13.6 21 16.6 11 Q18.8 3 18 -12 Q15.6 -26 -1 -25.6Z" fill="url(#sk2)"/>
<path d="M-11 -22.6 Q0 -26.4 12 -21 Q1 -22.6 -11 -22.6Z" fill="#e0ae8e" opacity=".7"/>
<path d="M-14 -4.4 Q-8 -7 -2.6 -3.8" stroke="#46291f" stroke-width="1.7" fill="none" opacity=".7"/><path d="M4 -3.8 Q9.4 -6.8 14.6 -4.4" stroke="#46291f" stroke-width="1.7" fill="none" opacity=".7"/>
<ellipse cx="-8.2" cy="-1.2" rx="3.4" ry="1.5" fill="#33211c" opacity=".8"/><ellipse cx="8.8" cy="-1.2" rx="3.4" ry="1.5" fill="#33211c" opacity=".8"/>
<path d="M-4.4 8.8 Q0 11.6 5 8.8 Q0 10 -4.4 8.8Z" fill="#8e553c" stroke="#8e553c" stroke-width="1.1" opacity=".75"/><path d="M2.2 -1 Q3.6 5 4.4 8" stroke="#a66d4e" stroke-width="1.6" fill="none" opacity=".55"/>
<path d="M-6.6 15.8 Q0 14.2 7.6 15.8" stroke="#86493c" stroke-width="1.7" fill="none"/>
<path d="M-5 19.6 Q0 21 6 19.6" stroke="#a86e52" stroke-width="1" fill="none" opacity=".7"/>
</g></g>
<clipPath id="p3"><rect x="195.8" y="824" width="51.7" height="52.4"/></clipPath>
<g clip-path="url(#p3)" filter="url(#bl)">
<path d="M195.8 876.6 L196 872.6 Q201 866.4 207.2 862.6 L217 876.6Z" fill="#17171c"/>
<path d="M236.4 866.6 L231 876.6 L247.5 876.6 L247 871 Q242 867.6 236.4 866.6Z" fill="#17171c"/>
<path d="M207.2 862.6 L211 858 L232 860 L236.4 866.6 L231.6 876.6 L217 876.6Z" fill="#f3f3f5"/>
<path d="M222.4 871 L227.6 871 L229.4 876.6 L220.6 876.6Z" fill="#3f6c9c"/>
<path d="M210.6 854 L211 865 L221 872.4 L231.6 866 L232.4 854Z" fill="#b7866b"/>
<path d="M220.6 825.6 Q208 826 205.8 838 Q205 846 206.6 851 L209.2 839 Q211.6 831.4 219 830 Q229 829.6 233.2 837 L235 848 Q237.2 842 236 835 Q232.6 825.6 220.6 825.6Z" fill="#54443f"/>
<ellipse cx="206.4" cy="848.6" rx="2" ry="4.4" fill="#bd8a70"/><ellipse cx="235.2" cy="848" rx="1.4" ry="4" fill="#b58166"/>
<path d="M221 828 Q209 828.6 207.4 840 Q206.8 852 209.6 858 Q214 864.8 221.2 865.2 Q228.6 864.8 232.6 858 Q235.4 852 234.8 840 Q233 828.6 221 828Z" fill="url(#sk3)"/>
<path d="M212 832.6 Q221 828.2 230.6 832.6 Q222 834.4 212 832.6Z" fill="#f0d0bc" opacity=".85"/>
<path d="M210.4 842.4 Q215 840 219.6 842.8" stroke="#35261f" stroke-width="1.6" fill="none"/><path d="M223.6 842.8 Q228.4 840 232.6 842.4" stroke="#35261f" stroke-width="1.6" fill="none"/>
<ellipse cx="215.2" cy="844.8" rx="2.5" ry="1" fill="#2a1e1a"/><ellipse cx="228" cy="844.8" rx="2.5" ry="1" fill="#2a1e1a"/>
<path d="M218.6 851.6 Q221.6 853.6 224.8 851.6 Q221.6 852.6 218.6 851.6Z" fill="#9a644b" stroke="#9a644b" stroke-width="1" opacity=".8"/>
<path d="M214.8 855.2 Q221.6 859.4 228.4 855.2 Q221.6 856.6 214.8 855.2Z" fill="#8a463c" stroke="#8a463c" stroke-width=".9"/>
</g>
<clipPath id="p4"><rect x="384.8" y="800" width="52.9" height="76.4"/></clipPath>
<g clip-path="url(#p4)" filter="url(#bl)">
<path d="M384.8 876.6 L384.8 862.4 Q391 857.6 397.4 852 L414 876.6Z" fill="#1a1c29"/>
<path d="M426 859 L437.7 863 L437.7 876.6 L424 876.6Z" fill="#1a1c29"/>
<path d="M397.4 852 L401 855 L426 859 L428.4 876.6 L414 876.6Z" fill="#eef0f5"/>
<path d="M413 868.4 L421 866.2 L428 876.6 L418.6 876.6Z" fill="#5f9bd3"/>
<path d="M399.6 846 L400.6 857.6 L412 868 L425.4 861.4 L426.6 846Z" fill="#ae7858"/>
<path d="M410 805.6 Q396 805.8 391.6 816 Q388.4 826 390.6 835 Q391.4 838 393 839 L395.8 838 Q395.8 826.6 402 822.8 Q412 819.6 424 823 Q428.4 828 429.2 839 Q433.6 832 432.6 822 Q430 810 421 807 Q416 805.4 410 805.6Z" fill="#15131a"/>
<ellipse cx="394.4" cy="842.6" rx="2.5" ry="5.2" fill="#b98363"/><ellipse cx="430" cy="842.6" rx="1.9" ry="4.8" fill="#b07a5a"/>
<path d="M412.4 820.4 Q397.6 821 396 834 Q395.4 846 398.6 853 Q403.6 861 412.6 862 Q421.6 861 426.4 853 Q430 846 429.4 834 Q427.4 821 412.4 820.4Z" fill="url(#sk4)"/>
<path d="M399.6 836 Q404.6 833.4 410.2 836.6" stroke="#1f1613" stroke-width="1.9" fill="none"/><path d="M416 836.6 Q421.4 833.4 426.6 836" stroke="#1f1613" stroke-width="1.9" fill="none"/>
<ellipse cx="405.2" cy="838.8" rx="2.9" ry="1.2" fill="#241a17"/><ellipse cx="421.4" cy="838.8" rx="2.9" ry="1.2" fill="#241a17"/>
<path d="M409.8 845 Q413 846.8 416.6 845 Q413 846 409.8 845Z" fill="#8f5a3e" stroke="#8f5a3e" stroke-width="1" opacity=".8"/>
<path d="M405.6 849 Q409.6 845 414.6 846.4 Q419.8 845 424 849 Q414.8 849.6 405.6 849Z" fill="#1b1412" stroke="#1b1412" stroke-width="1"/>
<path d="M408.6 851 Q415 853.6 421.4 851 Q415 856 408.6 851Z" fill="#f3e9e5"/>
</g>
<clipPath id="p5"><rect x="472.6" y="826" width="52.89999999999998" height="50.39999999999998"/></clipPath>
<g clip-path="url(#p5)" filter="url(#bl)"><g transform="translate(500.0,853.6) scale(0.821,0.76)">
<path d="M-29 40 L-28 25 Q-23 17 -17.6 12 L-12 24 L0 36 L14 26 L19 15 Q25 19 27 27 L27 40Z" fill="#e9dccd"/>
<path d="M-17.6 12 L-12 24 L-5 40 L-18 40Z" fill="#f3ebe0"/>
<path d="M-13.6 10 L-12 26 L0 37 L14 27 L15 8Z" fill="#b57a59"/>
<ellipse cx="-20.2" cy="-1.6" rx="3.4" ry="6.8" fill="#c28665"/><ellipse cx="19" cy="-1.6" rx="2.6" ry="6.2" fill="#b67958"/>
<path d="M-1 -36.4 Q-14 -37 -20 -29 Q-24.6 -21 -22.6 -10 Q-22 -5 -20 -3 L-17.8 -13 Q-15.6 -22 -7 -23.6 Q7 -25.6 15 -19.6 Q17.8 -16 18.6 -4 Q22.6 -10 22.2 -19 Q21.6 -29 14 -33.6 Q8 -36.6 -1 -36.4Z" fill="#2a1d1b"/>
<path d="M-1 -25.6 Q-15.6 -25 -18 -12 Q-19 3 -16.6 11 Q-13 21 -5 24.6 Q0 26 6 24.6 Q13.6 21 16.6 11 Q18.8 3 18 -12 Q15.6 -26 -1 -25.6Z" fill="url(#sk2)"/>
<path d="M-11 -22.6 Q0 -26.4 12 -21 Q1 -22.6 -11 -22.6Z" fill="#e0ae8e" opacity=".7"/>
<path d="M-14 -4.4 Q-8 -7 -2.6 -3.8" stroke="#46291f" stroke-width="1.7" fill="none" opacity=".7"/><path d="M4 -3.8 Q9.4 -6.8 14.6 -4.4" stroke="#46291f" stroke-width="1.7" fill="none" opacity=".7"/>
<ellipse cx="-8.2" cy="-1.2" rx="3.4" ry="1.5" fill="#33211c" opacity=".8"/><ellipse cx="8.8" cy="-1.2" rx="3.4" ry="1.5" fill="#33211c" opacity=".8"/>
<path d="M-4.4 8.8 Q0 11.6 5 8.8 Q0 10 -4.4 8.8Z" fill="#8e553c" stroke="#8e553c" stroke-width="1.1" opacity=".75"/><path d="M2.2 -1 Q3.6 5 4.4 8" stroke="#a66d4e" stroke-width="1.6" fill="none" opacity=".55"/>
<path d="M-6.6 15.8 Q0 14.2 7.6 15.8" stroke="#86493c" stroke-width="1.7" fill="none"/>
<path d="M-5 19.6 Q0 21 6 19.6" stroke="#a86e52" stroke-width="1" fill="none" opacity=".7"/>
</g></g>
<clipPath id="p6"><rect x="561.1" y="828" width="52.9" height="48.4"/></clipPath>
<g clip-path="url(#p6)" filter="url(#bl)">
<path d="M561.1 876.6 L561.4 869 Q566 863.6 574 862 L602 862 Q610 865.6 612.4 876.6Z" fill="#f2f2f2"/>
<path d="M588 829.6 Q572.6 830.4 570.2 847 Q566.8 853.6 567.6 858.6 Q570.6 865 577 863.6 L600 863.6 Q606 859.6 605.6 850 Q604.6 830.8 588 829.6Z" fill="#573b28"/>
<path d="M571 863.6 Q580 872.4 588.6 873 Q596.6 872.4 601.6 863.6 L600.6 876.6 L568.6 876.6Z" fill="#9c9c9e"/>
<path d="M576.6 866 L575.6 876.6 M583 870.6 L583.4 876.6 M594.4 870.6 L595 876.6" stroke="#747477" stroke-width="1.1"/>
<path d="M588.4 839 Q577 839.6 575.6 851 Q575.4 860 579.2 865.4 Q583.4 870 588.4 870.2 Q593.8 870 597.8 865.4 Q601.2 860 600.8 851 Q599.4 839.6 588.4 839Z" fill="url(#sk6)"/>
<path d="M575.2 852 Q575.6 842 584 839 Q592.6 835.6 601 847 Q601.6 838 592 833.2 Q579.6 831.6 575.2 852Z" fill="#573b28"/>
<path d="M578 846.6 Q582 844.6 585.8 846.8" stroke="#573828" stroke-width="1.1" fill="none"/><path d="M591 846.8 Q594.8 844.6 598.6 846.6" stroke="#573828" stroke-width="1.1" fill="none"/>
<ellipse cx="582" cy="848.8" rx="2.5" ry="1" fill="#36251f"/><ellipse cx="594.8" cy="848.8" rx="2.5" ry="1" fill="#36251f"/>
<path d="M586 854.6 Q588.4 856.2 591 854.6 Q588.4 855.4 586 854.6Z" fill="#96603f" stroke="#96603f" stroke-width=".9" opacity=".8"/>
<path d="M582 858.2 Q588.4 857.2 595 858.2 Q588.4 864.8 582 858.2Z" fill="#a84a4a"/>
<path d="M583.6 858.8 Q588.4 858.2 593.4 858.8 Q588.4 861 583.6 858.8Z" fill="#f3e7e4"/>
</g>
<g transform="translate(62.5,853.0) scale(0.744)">
<rect x="0" y="0" width="31.2" height="31.2" rx="3.6" fill="#b8282a"/>
<text x="1.7" y="16.3" font-size="9.0" font-weight="bold" fill="#fff" stroke="#fff" stroke-width="0.5" textLength="27.8" lengthAdjust="spacingAndGlyphs">morena</text>
<rect x="2.0" y="18.6" width="27.2" height="1.2" fill="#e3aaa6" opacity="0.6"/>
</g>
<g transform="translate(149.3,853.0) scale(0.744)">
<rect x="0" y="0" width="31.2" height="31.2" rx="3.4" fill="#ababab"/>
<rect x="11.1" y="-0.3" width="8.5" height="31.8" fill="#fff"/>
<path d="M11.1 3.35 A13.5 12.8 0 0 0 11.1 27.65 Z" fill="#109a49"/>
<path d="M19.6 3.1 A13.5 12.8 0 0 1 19.6 27.9 Z" fill="#d22a26"/>
<path fill-rule="evenodd" d="M4 10 H7.4 A2.9 3.6 0 0 1 7.4 17.2 H6.6 V21 H4 Z M6.6 12.3 V14.9 H7.1 A1.0 1.3 0 0 0 7.1 12.3 Z" fill="#fff"/>
<path fill-rule="evenodd" d="M12.4 6.3 H16.2 A2.7 2.9 0 0 1 17.4 11.7 L19.0 16.25 H16.3 L15.0 12.3 H14.9 V16.25 H12.4 Z M14.9 8.4 V10.3 H15.7 A0.9 0.95 0 0 0 15.7 8.4 Z" fill="#111"/>
<rect x="22.4" y="10.1" width="2.7" height="10.9" fill="#fff"/>
</g>
<g transform="translate(236.3,853.0) scale(0.750)">
<rect x="0" y="0" width="31.2" height="31.2" rx="3.4" fill="#0b3c9b"/>
<circle cx="15.55" cy="15.6" r="14.0" fill="none" stroke="#fff" stroke-width="1.5"/>
<circle cx="15.55" cy="15.6" r="11.7" fill="#fff"/>
<text x="7.5" y="21.8" font-size="18.4" font-weight="bold" fill="#0b3c9b" stroke="#0b3c9b" stroke-width="0.95" textLength="16.6" lengthAdjust="spacingAndGlyphs">PAN</text>
</g>
<g transform="translate(427.5,853.0) scale(0.744)">
<rect x="0" y="0" width="31.2" height="31.2" rx="3.6" fill="#b8282a"/>
<text x="1.7" y="16.3" font-size="9.0" font-weight="bold" fill="#fff" stroke="#fff" stroke-width="0.5" textLength="27.8" lengthAdjust="spacingAndGlyphs">morena</text>
<rect x="2.0" y="18.6" width="27.2" height="1.2" fill="#e3aaa6" opacity="0.6"/>
</g>
<g transform="translate(515.0,853.0) scale(0.744)">
<rect x="0" y="0" width="31.2" height="31.2" rx="3.4" fill="#ababab"/>
<rect x="11.1" y="-0.3" width="8.5" height="31.8" fill="#fff"/>
<path d="M11.1 3.35 A13.5 12.8 0 0 0 11.1 27.65 Z" fill="#109a49"/>
<path d="M19.6 3.1 A13.5 12.8 0 0 1 19.6 27.9 Z" fill="#d22a26"/>
<path fill-rule="evenodd" d="M4 10 H7.4 A2.9 3.6 0 0 1 7.4 17.2 H6.6 V21 H4 Z M6.6 12.3 V14.9 H7.1 A1.0 1.3 0 0 0 7.1 12.3 Z" fill="#fff"/>
<path fill-rule="evenodd" d="M12.4 6.3 H16.2 A2.7 2.9 0 0 1 17.4 11.7 L19.0 16.25 H16.3 L15.0 12.3 H14.9 V16.25 H12.4 Z M14.9 8.4 V10.3 H15.7 A0.9 0.95 0 0 0 15.7 8.4 Z" fill="#111"/>
<rect x="22.4" y="10.1" width="2.7" height="10.9" fill="#fff"/>
</g>
<g transform="translate(602.8,853.0) scale(0.750)">
<rect x="0" y="0" width="31.2" height="31.2" rx="3.4" fill="#0b3c9b"/>
<circle cx="15.55" cy="15.6" r="14.0" fill="none" stroke="#fff" stroke-width="1.5"/>
<circle cx="15.55" cy="15.6" r="11.7" fill="#fff"/>
<text x="7.5" y="21.8" font-size="18.4" font-weight="bold" fill="#0b3c9b" stroke="#0b3c9b" stroke-width="0.95" textLength="16.6" lengthAdjust="spacingAndGlyphs">PAN</text>
</g>
<text x="5.5" y="893.6" font-size="9.6" font-weight="bold" fill="#111" textLength="81.3" lengthAdjust="spacingAndGlyphs">Alma Marina Vitela,</text>
<text x="22.0" y="905.2" font-size="9.6" font-weight="bold" fill="#111" textLength="48.5" lengthAdjust="spacingAndGlyphs">por Morena</text>
<text x="91.5" y="893.6" font-size="9.6" font-weight="bold" fill="#111" textLength="84.8" lengthAdjust="spacingAndGlyphs">Esteban Villegas, por</text>
<text x="122.5" y="905.2" font-size="9.6" font-weight="bold" fill="#111" textLength="22.5" lengthAdjust="spacingAndGlyphs">el PRI</text>
<text x="183.0" y="893.6" font-size="9.6" font-weight="bold" fill="#111" textLength="76.8" lengthAdjust="spacingAndGlyphs">Jorge Salum, por el</text>
<text x="213.0" y="905.2" font-size="9.6" font-weight="bold" fill="#111" textLength="17.3" lengthAdjust="spacingAndGlyphs">PAN</text>
<text x="266.5" y="893.6" font-size="9.6" font-weight="bold" fill="#111" textLength="85.3" lengthAdjust="spacingAndGlyphs">Algún otro partido, o</text>
<text x="279.0" y="905.2" font-size="9.6" font-weight="bold" fill="#111" textLength="59.5" lengthAdjust="spacingAndGlyphs">no ha decidido</text>
<text x="386.5" y="892.7" font-size="9.6" font-weight="bold" fill="#111" textLength="48.8" lengthAdjust="spacingAndGlyphs">José Ramón</text>
<text x="384.0" y="905.0" font-size="9.6" font-weight="bold" fill="#111" textLength="54.3" lengthAdjust="spacingAndGlyphs">Enríquez, por</text>
<text x="395.3" y="916.6" font-size="9.6" font-weight="bold" fill="#111" textLength="31.7" lengthAdjust="spacingAndGlyphs">Morena</text>
<text x="456.5" y="892.7" font-size="9.6" font-weight="bold" fill="#111" textLength="85.0" lengthAdjust="spacingAndGlyphs">Esteban Villegas, por</text>
<text x="487.8" y="905.0" font-size="9.6" font-weight="bold" fill="#111" textLength="23.0" lengthAdjust="spacingAndGlyphs">el PRI</text>
<text x="551.5" y="892.7" font-size="9.6" font-weight="bold" fill="#111" textLength="72.5" lengthAdjust="spacingAndGlyphs">María del Rosario</text>
<text x="544.5" y="905.0" font-size="9.6" font-weight="bold" fill="#111" textLength="85.8" lengthAdjust="spacingAndGlyphs">Castro Lozano, por el</text>
<text x="579.0" y="916.6" font-size="9.6" font-weight="bold" fill="#111" textLength="17.5" lengthAdjust="spacingAndGlyphs">PAN</text>
<text x="632.8" y="892.7" font-size="9.6" font-weight="bold" fill="#111" textLength="85.7" lengthAdjust="spacingAndGlyphs">Algún otro partido, o</text>
<text x="645.3" y="905.0" font-size="9.6" font-weight="bold" fill="#111" textLength="59.7" lengthAdjust="spacingAndGlyphs">no ha decidido</text>
<rect x="0.0" y="924.2" width="181.6" height="36.7" fill="#69bd4f"/>
<rect x="181.6" y="924.2" width="176.6" height="36.7" fill="#62cce0"/>
<rect x="358.2" y="924.2" width="182.8" height="36.7" fill="#7040b8"/>
<rect x="541.0" y="924.2" width="179.1" height="36.7" fill="#f94040"/>
<text x="16.3" y="939.3" font-size="12.2" font-weight="normal" fill="#fff" stroke="#fff" stroke-width="0.45" textLength="115.5" lengthAdjust="spacingAndGlyphs">Metodología página 8</text>
<text x="16.3" y="955.6" font-size="12.2" font-weight="normal" fill="#fff" stroke="#fff" stroke-width="0.45" textLength="65.0" lengthAdjust="spacingAndGlyphs">Descarga en</text>
<text x="84.5" y="955.8" font-size="12" font-weight="normal" fill="#1a22e6" stroke="#1a22e6" stroke-width="0.2" textLength="219.8" lengthAdjust="spacingAndGlyphs">https://www.factometrica.com/electoral</text>
<rect x="84.5" y="957.0" width="219.8" height="0.8" fill="#1a22e6"/>
<text x="367.3" y="949.2" font-size="22.6" font-weight="bold" fill="#fff" stroke="#fff" stroke-width="0.9" textLength="11.8" lengthAdjust="spacingAndGlyphs">3</text>
<clipPath id="fc"><rect x="541" y="924.2" width="179.1" height="36.7"/></clipPath><g clip-path="url(#fc)">
<text x="647.8" y="934.5" font-size="10.6" font-weight="normal" font-style="italic" fill="#fff" stroke="#fff" stroke-width="0.4" textLength="66.7" lengthAdjust="spacingAndGlyphs">Muestra: 1,000</text>
<text x="612.8" y="947.5" font-size="10.6" font-weight="normal" font-style="italic" fill="#fff" stroke="#fff" stroke-width="0.4" textLength="101.7" lengthAdjust="spacingAndGlyphs">Nivel de Confianza: 95%</text>
<text x="610.0" y="960.2" font-size="10.6" font-weight="normal" font-style="italic" fill="#fff" stroke="#fff" stroke-width="0.4" textLength="104.5" lengthAdjust="spacingAndGlyphs">Margen de error: ± 3.1%</text>
</g>
<rect x="0.0" y="0.0" width="723.0" height="1.1" fill="#2f3236"/>
<rect x="0.0" y="1.1" width="719.9" height="1.0" fill="#ececec"/>
<rect x="0.0" y="2.1" width="719.0" height="10.0" fill="url(#gt)"/>
<rect x="719.9" y="0.0" width="3.1" height="976.0" fill="url(#gr)"/>
<rect x="0.0" y="960.9" width="723.0" height="13.4" fill="url(#gb)"/>
<rect x="0.0" y="974.3" width="720.1" height="1.7" fill="#fdfdfd"/>
</svg></body></html>
